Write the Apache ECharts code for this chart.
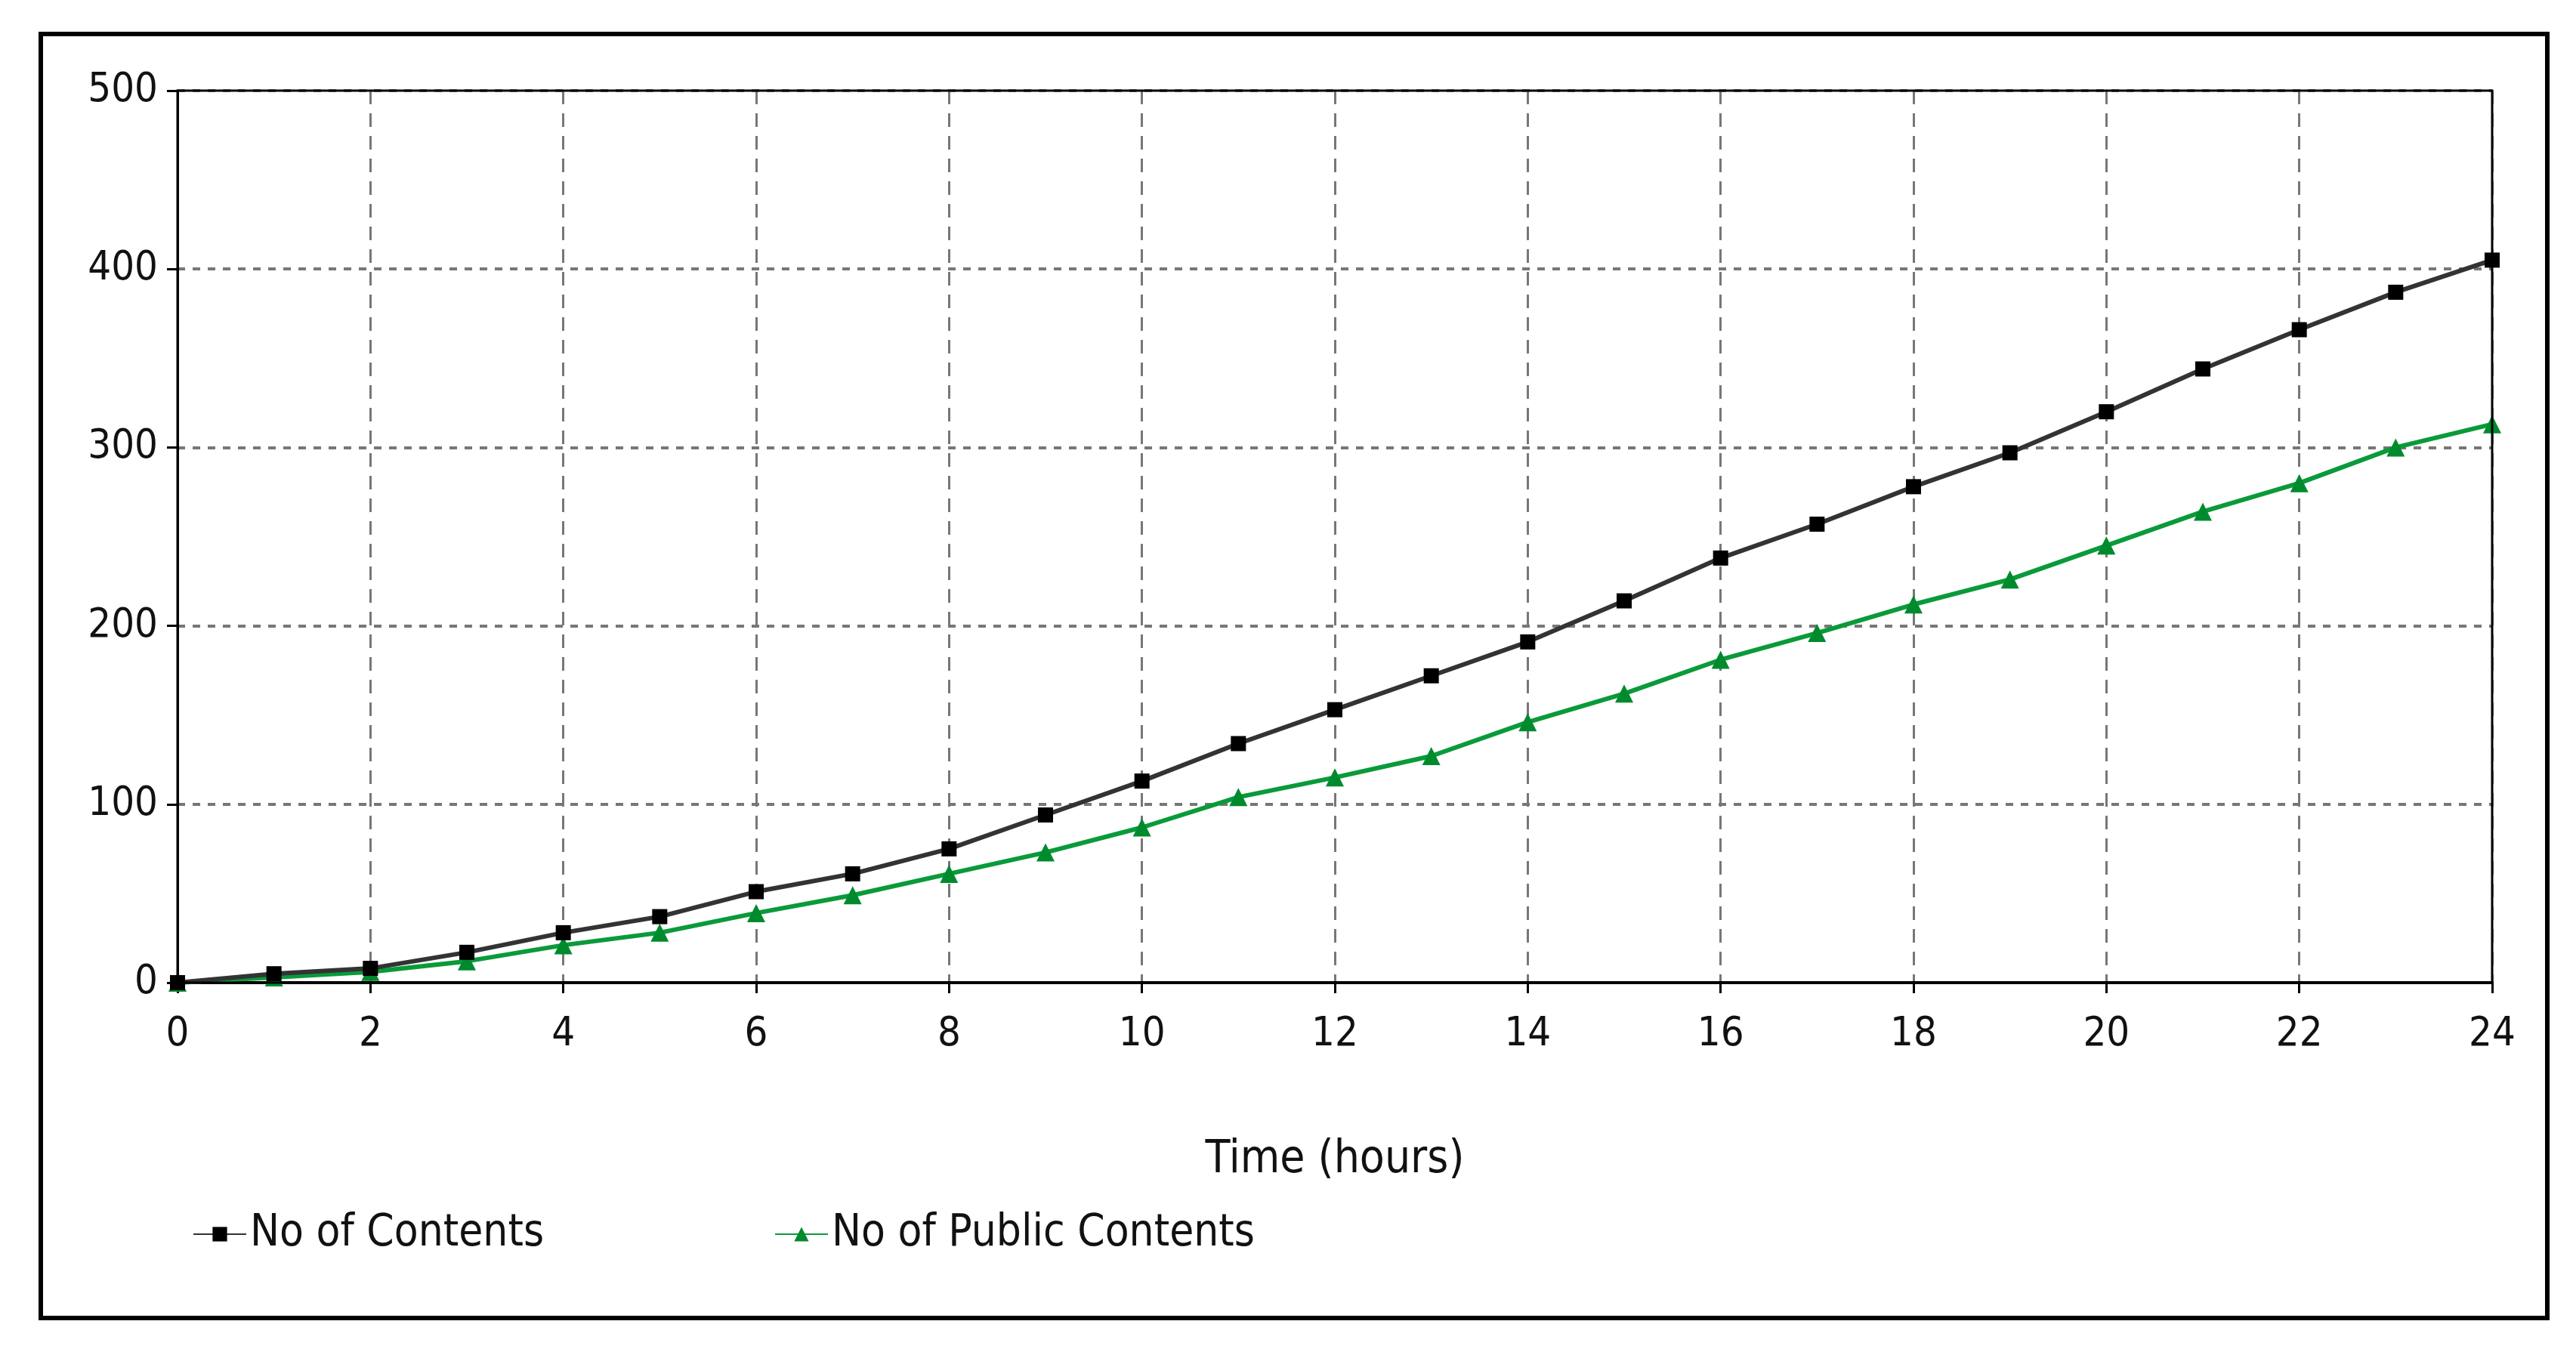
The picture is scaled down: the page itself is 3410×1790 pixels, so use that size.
<!DOCTYPE html>
<html><head><meta charset="utf-8">
<script src="https://cdn.jsdelivr.net/npm/echarts@6/dist/echarts.min.js"></script>
<style>html,body{margin:0;padding:0;background:#fff}#c{width:3410px;height:1790px}</style>
</head><body><div id="c"></div>
<script>
const hours = [0,1,2,3,4,5,6,7,8,9,10,11,12,13,14,15,16,17,18,19,20,21,22,23,24];
const contents = [0,5,8,17,28,37,51,61,75,94,113,134,153,172,191,214,238,257,278,297,320,344,366,387,405];
const publicContents = [0,3,6,12,21,28,39,49,61,73,87,104,115,127,146,162,181,196,212,226,245,264,280,300,313];
const names = ['No of Contents','No of Public Contents'];
const font = '"DejaVu Sans Condensed", Tahoma, "Liberation Sans Narrow", sans-serif';
const chart = echarts.init(document.getElementById('c'));
const pair = (arr) => hours.map((h,i)=>[h,arr[i]]);
chart.setOption({
  animation:false,
  backgroundColor:'#fff',
  graphic:[{type:'rect',shape:{x:54,y:45,width:3318,height:1700},style:{fill:'none',stroke:'#000',lineWidth:6}},
           {type:'rect',shape:{x:235,y:120,width:3064,height:1181},style:{fill:'none',stroke:'#000',lineWidth:3},z:10}],
  grid:{left:235,right:111,top:120,bottom:489},
  xAxis:{type:'value',min:0,max:24,interval:2,name:'Time (hours)',nameLocation:'middle',nameGap:205,
    nameTextStyle:{fontSize:60,color:'#111',fontFamily:font},
    axisLine:{lineStyle:{color:'#000',width:4}},axisTick:{show:true,length:14,lineStyle:{color:'#000',width:3}},
    axisLabel:{fontSize:54,color:'#111',margin:42,fontFamily:font},
    splitLine:{lineStyle:{color:'#777',type:[18,12],width:3}}},
  yAxis:{type:'value',min:0,max:500,interval:100,
    axisLine:{show:true,lineStyle:{color:'#000',width:3}},axisTick:{show:true,length:14,lineStyle:{color:'#000',width:3}},
    axisLabel:{fontSize:54,color:'#111',margin:26,fontFamily:font},
    splitLine:{lineStyle:{color:'#777',type:[10,10],width:4}}},
  legend:[{data:[names[0]],left:250,top:1600,itemWidth:70,itemHeight:24,textStyle:{fontSize:58,color:'#111',fontFamily:font}},
          {data:[names[1]],left:1020,top:1600,itemWidth:70,itemHeight:24,textStyle:{fontSize:58,color:'#111',fontFamily:font}}],
  series:[
    {name:names[0],type:'line',data:pair(contents),symbol:'rect',symbolSize:20,showSymbol:true,
     lineStyle:{color:'#333',width:6},itemStyle:{color:'#000'},z:3},
    {name:names[1],type:'line',data:pair(publicContents),symbol:'triangle',symbolSize:24,showSymbol:true,
     lineStyle:{color:'#0a9a3a',width:6},itemStyle:{color:'#008a2e'},z:2}
  ]
});
</script></body></html>
